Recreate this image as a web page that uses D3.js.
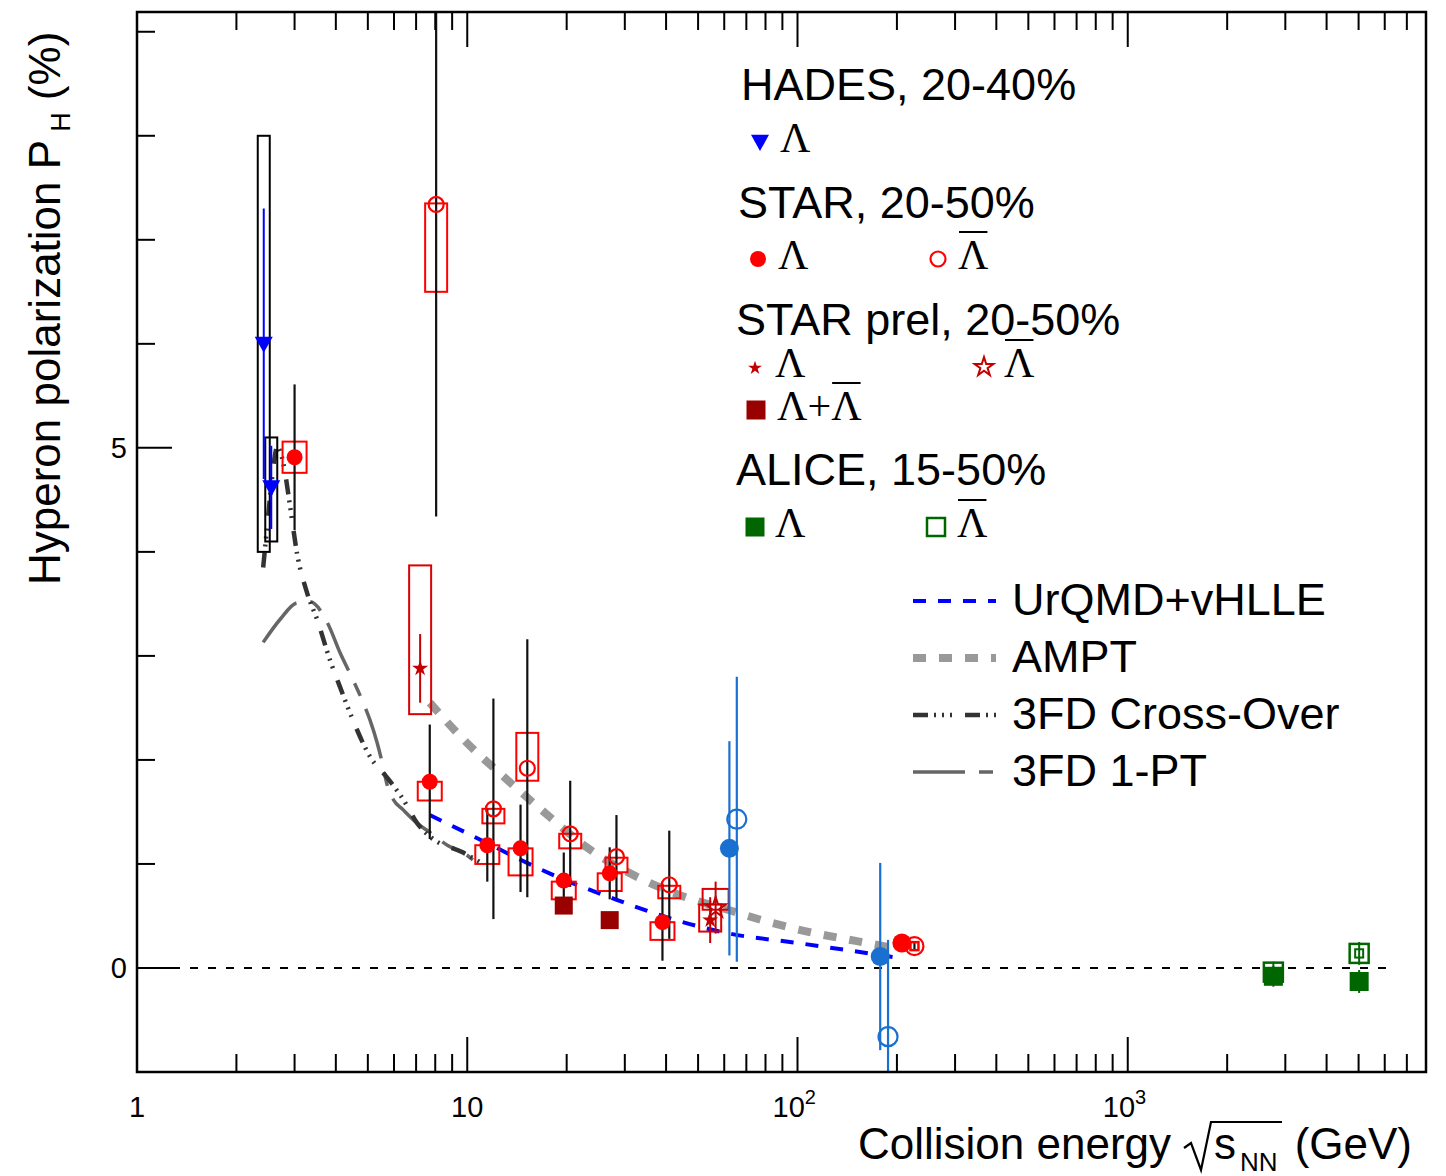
<!DOCTYPE html>
<meta charset="utf-8">
<style>
body { margin: 0; background: #fff; }
svg { font-family: "Liberation Sans", Arial, Helvetica, sans-serif; }
</style>
<body>
<svg id="chart" width="1446" height="1176"></svg>
<script src="https://d3js.org/d3.v7.min.js"></script>
<script>

// HADES, 20-40%
var hadesE      = [2.42, 2.55];
var hadesP      = [6.0, 4.62];
var hadesStat   = [1.3, 0.4];
var hadesSysLo  = [4.0, 4.1];
var hadesSysHi  = [8.0, 5.1];

// STAR, 20-50%  Lambda
var starLamE     = [3.0, 7.7, 11.5, 14.5, 19.6, 27, 39, 207];
var starLamP     = [4.91, 1.79, 1.18, 1.15, 0.84, 0.91, 0.44, 0.24];
var starLamStat  = [0.7, 0.55, 0.35, 0.42, 0.27, 0.25, 0.37, 0.04];
var starLamSysLo = [4.76, 1.61, 1.00, 0.89, 0.66, 0.74, 0.27, null];
var starLamSysHi = [5.06, 1.79, 1.18, 1.15, 0.83, 0.91, 0.44, null];

// STAR, 20-50%  anti-Lambda
var starBarE     = [8.05, 12.0, 15.2, 20.5, 28.3, 40.9, 226];
var starBarP     = [7.34, 1.53, 1.92, 1.29, 1.07, 0.80, 0.21];
var starBarStat  = [3.0, 1.06, 1.24, 0.51, 0.40, 0.52, 0.04];
var starBarSysLo = [6.50, 1.39, 1.80, 1.15, 0.92, 0.67, null];
var starBarSysHi = [7.35, 1.53, 2.26, 1.29, 1.06, 0.79, null];

// STAR prel
var prelLamE     = [7.2, 54.4];
var prelLamP     = [2.88, 0.46];
var prelLamStat  = [0.33, 0.22];
var prelLamSysLo = [2.44, 0.35];
var prelLamSysHi = [3.87, 0.61];
var prelBarE     = [56.5];
var prelBarP     = [0.58];
var prelBarStat  = [0.25];
var prelBarSysLo = [0.56];
var prelBarSysHi = [0.76];
var prelSumE     = [19.6, 27];
var prelSumP     = [0.60, 0.46];

// earlier STAR (not in legend)
var oldLamE    = [62.2, 178];
var oldLamP    = [1.15, 0.11];
var oldLamStat = [1.03, 0.9];
var oldBarE    = [65.5, 188];
var oldBarP    = [1.43, -0.66];
var oldBarStat = [1.37, 0.93];

// ALICE, 15-50%
var aliceLamE    = [2760, 5020];
var aliceLamP    = [-0.08, -0.13];
var aliceLamStat = [0.1, 0.11];
var aliceBarE    = [2760, 5020];
var aliceBarP    = [-0.04, 0.14];
var aliceBarStat = [0.1, 0.11];
var aliceBarSys  = [0.04, 0.04];

// model curves
var urqmdE = [7.7, 11.5, 14.5, 19.6, 27, 39, 62.4, 100, 200];
var urqmdP = [1.47, 1.20, 1.04, 0.85, 0.68, 0.50, 0.33, 0.24, 0.10];

var amptE = [7.7, 10, 13.2, 17.5, 23, 32, 44, 63, 80, 107, 150, 190];
var amptP = [2.55, 2.16, 1.81, 1.47, 1.16, 0.89, 0.70, 0.55, 0.45, 0.35, 0.26, 0.20];

var xoverE = [2.41, 2.49, 2.56, 2.66, 2.77, 2.91, 3.05, 3.27, 3.51, 3.84, 4.12, 4.51, 5.08, 5.72, 6.40, 7.06, 7.73, 9.72, 10.9];
var xoverP = [3.85, 4.31, 4.69, 5.01, 4.86, 4.43, 3.99, 3.61, 3.35, 2.96, 2.70, 2.38, 2.03, 1.83, 1.62, 1.39, 1.26, 1.11, 1.02];

var onePtE = [2.41, 2.71, 3.05, 3.34, 3.77, 4.12, 4.51, 4.84, 5.08, 5.34, 5.53, 5.72, 5.97, 6.40, 7.06, 7.73, 8.70, 9.72, 10.4];
var onePtP = [3.13, 3.35, 3.51, 3.52, 3.32, 3.03, 2.77, 2.55, 2.38, 2.16, 1.97, 1.76, 1.62, 1.52, 1.39, 1.30, 1.18, 1.11, 1.04];

var yTicks = [0, 5];

var svg = d3.select('#chart');
var L = 137, R = 1426, T = 12, B = 1072;

var x = d3.scaleLog().domain([1, 8000]).range([L, R]);
var y = d3.scaleLinear().domain([-1, 9.19]).range([B, T]);

svg.append('defs').append('clipPath').attr('id', 'plot')
    .append('rect').attr('x', L).attr('y', T).attr('width', R - L).attr('height', B - T);

var plot = svg.append('g').attr('clip-path', 'url(#plot)');

// zero line
plot.append('line')
    .attr('x1', L + 35).attr('x2', x(6300))
    .attr('y1', y(0)).attr('y2', y(0))
    .attr('stroke', '#000').attr('stroke-width', 2).attr('stroke-dasharray', '8,10');

// ---- model curves ----
function zipPts(xs, ys) { return xs.map(function(v, i) { return [v, ys[i]]; }); }
var line = d3.line().x(function(d) { return x(d[0]); }).y(function(d) { return y(d[1]); })
    .curve(d3.curveMonotoneX);

var models = [
    {pts: zipPts(onePtE, onePtP), color: '#666', w: 3.5, dash: '52,14,14,14'},
    {pts: zipPts(xoverE, xoverP), color: '#333', w: 4.5, dash: '15,6,2,6,2,6,2,13'},
    {pts: zipPts(amptE, amptP), color: '#999', w: 8, dash: '13,13'},
    {pts: zipPts(urqmdE, urqmdP), color: '#0000ff', w: 4, dash: '13,12'}
];
models.forEach(function(m) {
    plot.append('path').attr('d', line(m.pts))
        .attr('fill', 'none').attr('stroke', m.color)
        .attr('stroke-width', m.w).attr('stroke-dasharray', m.dash);
});

// ---- helpers ----
function boxes(xs, lo, hi, color, hw) {
    xs.forEach(function(v, i) {
        if (lo[i] == null) return;
        plot.append('rect')
            .attr('x', x(v) - hw).attr('width', 2 * hw)
            .attr('y', y(hi[i])).attr('height', y(lo[i]) - y(hi[i]))
            .attr('fill', 'none').attr('stroke', color).attr('stroke-width', 2);
    });
}
function errs(xs, ys, e, color, w) {
    xs.forEach(function(v, i) {
        plot.append('line')
            .attr('x1', x(v)).attr('x2', x(v))
            .attr('y1', y(ys[i] + e[i])).attr('y2', y(ys[i] - e[i]))
            .attr('stroke', color).attr('stroke-width', w || 2);
    });
}
function circles(g, px, py, r, color, filled) {
    g.append('circle').attr('cx', px).attr('cy', py).attr('r', r)
        .attr('fill', filled ? color : 'none')
        .attr('stroke', color).attr('stroke-width', filled ? 0 : 2.2);
}
function triDown(g, px, py, s, color) {
    g.append('path')
        .attr('d', 'M' + (px - s) + ',' + (py - s * 0.8) + 'L' + (px + s) + ',' + (py - s * 0.8) + 'L' + px + ',' + (py + s) + 'Z')
        .attr('fill', color);
}
function star(g, px, py, size, color, filled) {
    g.append('path').attr('d', d3.symbol(d3.symbolStar, size)())
        .attr('transform', 'translate(' + px + ',' + py + ')')
        .attr('fill', filled ? color : 'none')
        .attr('stroke', color).attr('stroke-width', filled ? 0 : 2);
}
function square(g, px, py, s, color, filled) {
    g.append('rect').attr('x', px - s / 2).attr('y', py - s / 2)
        .attr('width', s).attr('height', s)
        .attr('fill', filled ? color : 'none')
        .attr('stroke', color).attr('stroke-width', filled ? 0 : 2.5);
}

// ---- systematic boxes ----
boxes(hadesE, hadesSysLo, hadesSysHi, '#000', 6);
boxes(starLamE, starLamSysLo, starLamSysHi, '#ff0000', 12);
boxes(starBarE, starBarSysLo, starBarSysHi, '#ff0000', 11);
boxes(prelLamE, prelLamSysLo, prelLamSysHi, '#dd0000', 11);
boxes(prelBarE, prelBarSysLo, prelBarSysHi, '#dd0000', 13);

// ---- statistical errors ----
errs(hadesE, hadesP, hadesStat, '#0000ff', 2);
errs(starLamE, starLamP, starLamStat, '#111', 2.2);
errs(starBarE, starBarP, starBarStat, '#111', 2.2);
errs(prelLamE, prelLamP, prelLamStat, '#c40000', 2);
errs(prelBarE, prelBarP, prelBarStat, '#c40000', 2);
errs(oldLamE, oldLamP, oldLamStat, '#1a70d0', 2.2);
errs(oldBarE, oldBarP, oldBarStat, '#1a70d0', 2.2);
errs(aliceLamE, aliceLamP, aliceLamStat, '#006600', 2);
errs(aliceBarE, aliceBarP, aliceBarStat, '#006600', 2);

// ---- markers ----
hadesE.forEach(function(v, i) { triDown(plot, x(v), y(hadesP[i]), 9, '#0000ff'); });
starLamE.forEach(function(v, i) { circles(plot, x(v), y(starLamP[i]), v > 100 ? 9.5 : 8, '#ff0000', true); });
starBarE.forEach(function(v, i) {
    circles(plot, x(v), y(starBarP[i]), v > 100 ? 9 : 7.5, '#ff0000', false);
    // small systematic square drawn inside the top-energy marker
    if (v > 100) square(plot, x(v), y(starBarP[i]), 8, '#ff0000', false);
});
prelLamE.forEach(function(v, i) { star(plot, x(v), y(prelLamP[i]), 80, '#c40000', true); });
prelBarE.forEach(function(v, i) { star(plot, x(v), y(prelBarP[i]), 130, '#c40000', false); });
prelSumE.forEach(function(v, i) { square(plot, x(v), y(prelSumP[i]), 18, '#990000', true); });
oldLamE.forEach(function(v, i) { circles(plot, x(v), y(oldLamP[i]), 9.5, '#1a70d0', true); });
oldBarE.forEach(function(v, i) { circles(plot, x(v), y(oldBarP[i]), 9.5, '#1a70d0', false); });
aliceBarE.forEach(function(v, i) { square(plot, x(v), y(aliceBarP[i]), 19, '#006600', false); });
aliceBarE.forEach(function(v, i) {
    plot.append('rect').attr('x', x(v) - 4).attr('width', 8)
        .attr('y', y(aliceBarP[i] + aliceBarSys[i])).attr('height', y(aliceBarP[i] - aliceBarSys[i]) - y(aliceBarP[i] + aliceBarSys[i]))
        .attr('fill', 'none').attr('stroke', '#006600').attr('stroke-width', 2);
});
aliceLamE.forEach(function(v, i) { square(plot, x(v), y(aliceLamP[i]), 19, '#006600', true); });

// ---- frame and ticks ----
var axes = svg.append('g');
axes.append('rect').attr('x', L).attr('y', T).attr('width', R - L).attr('height', B - T)
    .attr('fill', 'none').attr('stroke', '#000').attr('stroke-width', 2.5);

var xt = [];
[1, 10, 100, 1000].forEach(function(d) {
    for (var k = 1; k <= 9; k++) {
        var v = d * k;
        if (v > 8000) break;
        xt.push({v: v, major: k === 1});
    }
});
xt.forEach(function(t) {
    if (t.v === 1) return;
    var len = t.major ? 35 : 18;
    axes.append('line').attr('x1', x(t.v)).attr('x2', x(t.v)).attr('y1', B).attr('y2', B - len)
        .attr('stroke', '#000').attr('stroke-width', 2);
    axes.append('line').attr('x1', x(t.v)).attr('x2', x(t.v)).attr('y1', T).attr('y2', T + len)
        .attr('stroke', '#000').attr('stroke-width', 2);
});
d3.range(0, 10).forEach(function(v) {
    var len = yTicks.indexOf(v) >= 0 ? 35 : 18;
    axes.append('line').attr('x1', L).attr('x2', L + len).attr('y1', y(v)).attr('y2', y(v))
        .attr('stroke', '#000').attr('stroke-width', 2);
});

// tick labels
yTicks.forEach(function(v) {
    axes.append('text').attr('x', 127).attr('y', y(v) + 10)
        .attr('text-anchor', 'end').attr('font-size', 29).text(v);
});
[[1, ''], [10, ''], [100, '2'], [1000, '3']].forEach(function(t) {
    var lab = axes.append('text').attr('y', 1117).attr('font-size', 29);
    if (t[1] === '') {
        lab.attr('x', x(t[0])).attr('text-anchor', 'middle').text(t[0] === 1 ? '1' : '10');
    } else {
        lab.attr('x', x(t[0]) - 25).text('10');
        lab.append('tspan').attr('dy', -13).attr('font-size', 20).text(t[1]);
    }
});

// axis titles
var yt = svg.append('text').attr('transform', 'translate(60,585) rotate(-90)')
    .attr('font-size', 44);
yt.append('tspan').text('Hyperon polarization P');
yt.append('tspan').attr('dy', 10).attr('dx', 8).attr('font-size', 27).text('H');
yt.append('tspan').attr('dy', -10).attr('font-size', 44).text(' (%)');

svg.append('text').attr('x', 858).attr('y', 1159).attr('font-size', 44).text('Collision energy');
svg.append('path').attr('d', 'M1184,1148L1191,1143L1201,1170L1211,1122L1282,1122')
    .attr('fill', 'none').attr('stroke', '#000').attr('stroke-width', 2.2);
svg.append('text').attr('x', 1214).attr('y', 1159).attr('font-size', 44).text('s');
svg.append('text').attr('x', 1240).attr('y', 1171).attr('font-size', 26).text('NN');
svg.append('text').attr('x', 1412).attr('y', 1159).attr('font-size', 44)
    .attr('text-anchor', 'end').text('(GeV)');

// ---- legend ----
var lg = svg.append('g');
function head(px, py, s) {
    lg.append('text').attr('x', px).attr('y', py).attr('font-size', 45).text(s);
}
function lam(px, py, bar, plus) {
    var t = lg.append('text').attr('x', px).attr('y', py)
        .attr('font-family', '"Liberation Serif", "Times New Roman", serif')
        .attr('font-size', 42).text(plus ? '\u039B+\u039B' : '\u039B');
    if (bar) {
        var n = plus ? 2 : 0;
        var node = t.node();
        var a = node.getStartPositionOfChar(n).x, b = node.getEndPositionOfChar(n).x;
        lg.append('line').attr('x1', a + 1).attr('x2', b - 1)
            .attr('y1', py - 37).attr('y2', py - 37)
            .attr('stroke', '#000').attr('stroke-width', 2);
    }
}

head(741, 100, 'HADES, 20-40%');
triDown(lg, 760, 142, 9, '#0000ff');
lam(780, 152, false);

head(738, 218, 'STAR, 20-50%');
circles(lg, 758, 259, 8, '#ff0000', true);
lam(778, 269, false);
circles(lg, 938, 259, 7.5, '#ff0000', false);
lam(958, 269, true);

head(736, 335, 'STAR prel, 20-50%');
star(lg, 755, 368, 60, '#c40000', true);
lam(775, 377, false);
star(lg, 984, 367, 110, '#c40000', false);
lam(1004, 377, true);
square(lg, 756, 410, 19, '#990000', true);
lam(777, 420, true, true);

head(736, 485, 'ALICE, 15-50%');
square(lg, 755, 527, 19, '#006600', true);
lam(775, 537, false);
square(lg, 936, 527, 18, '#006600', false);
lam(957, 537, true);

var mLeg = [
    {name: 'UrQMD+vHLLE', color: '#0000ff', w: 4, dash: '13,12', y: 601},
    {name: 'AMPT', color: '#999', w: 8, dash: '13,13', y: 658},
    {name: '3FD Cross-Over', color: '#333', w: 4.5, dash: '15,6,2,6,2,6,2,13', y: 715},
    {name: '3FD 1-PT', color: '#666', w: 3.5, dash: '52,14,14,14', y: 772}
];
mLeg.forEach(function(m) {
    lg.append('line').attr('x1', 913).attr('x2', 996).attr('y1', m.y).attr('y2', m.y)
        .attr('stroke', m.color).attr('stroke-width', m.w).attr('stroke-dasharray', m.dash);
    lg.append('text').attr('x', 1012).attr('y', m.y + 14).attr('font-size', 45).text(m.name);
});

</script>
</body>
